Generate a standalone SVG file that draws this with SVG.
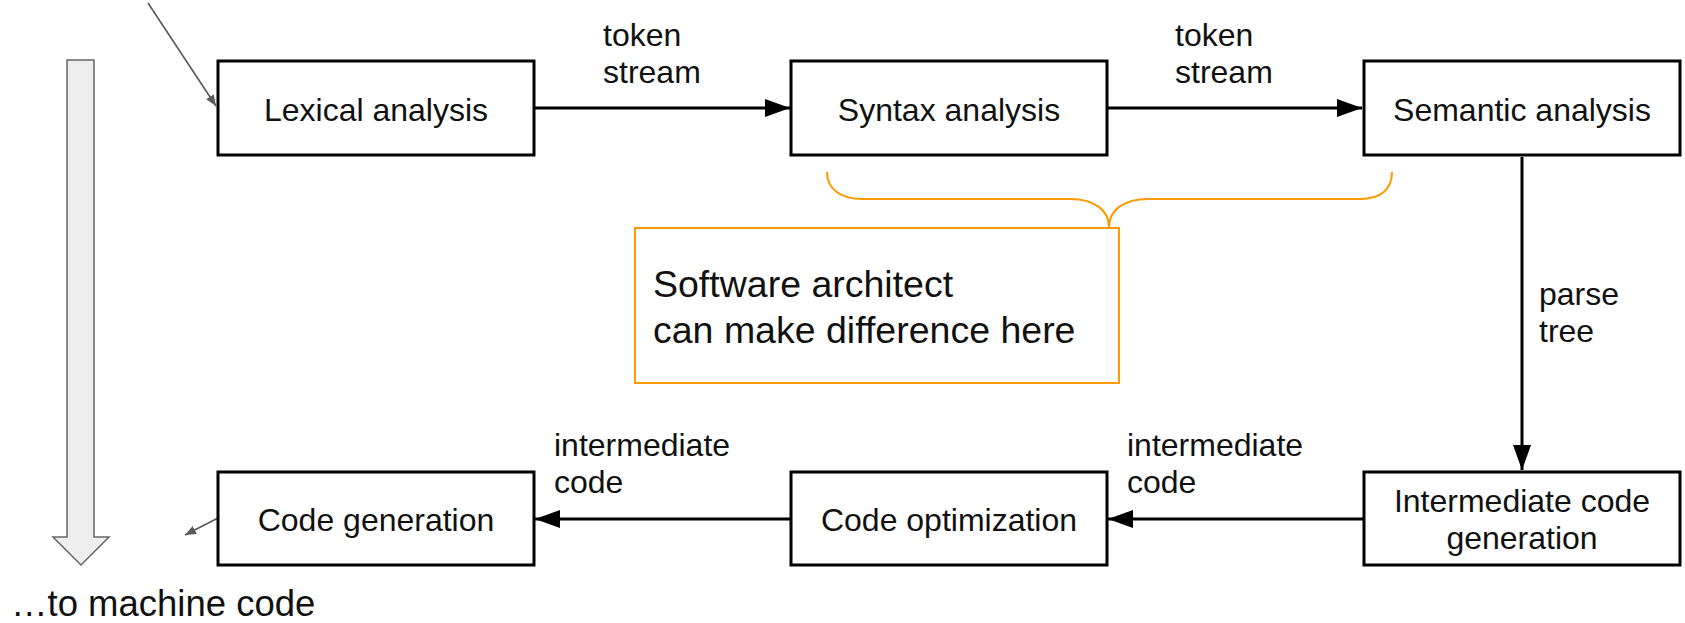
<svg xmlns="http://www.w3.org/2000/svg" width="1685" height="623" viewBox="0 0 1685 623">
<style>
.box{fill:#fff;stroke:#000;stroke-width:3}
.t{font-family:"Liberation Sans",Arial,sans-serif;font-size:32px;fill:#111}
.c{text-anchor:middle}
.big{font-size:37.5px}
.conn{stroke:#000;stroke-width:3;fill:none}
.thin{stroke:#595959;stroke-width:1.6;fill:none}
</style>
<defs>
<marker id="ah" markerUnits="userSpaceOnUse" markerWidth="26" markerHeight="20" refX="25" refY="10" orient="auto">
<path d="M0,1 L25,10 L0,19 Z" fill="#000"/>
</marker>
<marker id="sh" markerUnits="userSpaceOnUse" markerWidth="12" markerHeight="10" refX="11" refY="5" orient="auto">
<path d="M0,0.5 L11,5 L0,9.5 Z" fill="#595959"/>
</marker>
</defs>
<rect width="1685" height="623" fill="#fff"/>

<g id="flow-arrow">
<path d="M67,60 L94,60 L94,537 L109,537 L81,565 L53,537 L67,537 Z" fill="#eeeeee" stroke="#666" stroke-width="1.5"/>
</g>
<g id="machine-code-label">
<text class="t" x="11" y="616" style="font-size:36.5px">…to machine code</text>
</g>

<g id="connectors">
<line class="thin" x1="148" y1="3" x2="216" y2="106" marker-end="url(#sh)"/>
<line class="thin" x1="218" y1="518" x2="185" y2="535" marker-end="url(#sh)"/>
<line class="conn" x1="535" y1="108" x2="790" y2="108" marker-end="url(#ah)"/>
<line class="conn" x1="1108" y1="108" x2="1362" y2="108" marker-end="url(#ah)"/>
<line class="conn" x1="1522" y1="157" x2="1522" y2="470" marker-end="url(#ah)"/>
<line class="conn" x1="1363" y1="519" x2="1108" y2="519" marker-end="url(#ah)"/>
<line class="conn" x1="790" y1="519" x2="535" y2="519" marker-end="url(#ah)"/>
<text class="t" x="603" y="46">token</text>
<text class="t" x="603" y="83">stream</text>
<text class="t" x="1175" y="46">token</text>
<text class="t" x="1175" y="83">stream</text>
<text class="t" x="1539" y="305">parse</text>
<text class="t" x="1539" y="342">tree</text>
<text class="t" x="554" y="456">intermediate</text>
<text class="t" x="554" y="493">code</text>
<text class="t" x="1127" y="456">intermediate</text>
<text class="t" x="1127" y="493">code</text>
</g>

<g id="lexical">
<rect class="box" x="218" y="61" width="316" height="94"/>
<text class="t c" x="376" y="121">Lexical analysis</text>
</g>
<g id="syntax">
<rect class="box" x="791" y="61" width="316" height="94"/>
<text class="t c" x="949" y="121">Syntax analysis</text>
</g>
<g id="semantic">
<rect class="box" x="1364" y="61" width="316" height="94"/>
<text class="t c" x="1522" y="121">Semantic analysis</text>
</g>
<g id="intermediate">
<rect class="box" x="1364" y="472" width="316" height="93"/>
<text class="t c" x="1522" y="512">Intermediate code</text>
<text class="t c" x="1522" y="549">generation</text>
</g>
<g id="optimization">
<rect class="box" x="791" y="472" width="316" height="93"/>
<text class="t c" x="949" y="531">Code optimization</text>
</g>
<g id="generation">
<rect class="box" x="218" y="472" width="316" height="93"/>
<text class="t c" x="376" y="531">Code generation</text>
</g>

<g id="note">
<path d="M827,172 C827,190 842,199 862,199 L1070,199 C1094,199 1109,210 1109,227 C1109,210 1124,199 1148,199 L1360,199 C1380,199 1392,190 1392,172" fill="none" stroke="#ff9900" stroke-width="2"/>
<rect x="635" y="228" width="484" height="155" fill="#fff" stroke="#ff9900" stroke-width="2"/>
<text class="t big" x="653" y="297">Software architect</text>
<text class="t big" x="653" y="343">can make difference here</text>
</g>
</svg>
